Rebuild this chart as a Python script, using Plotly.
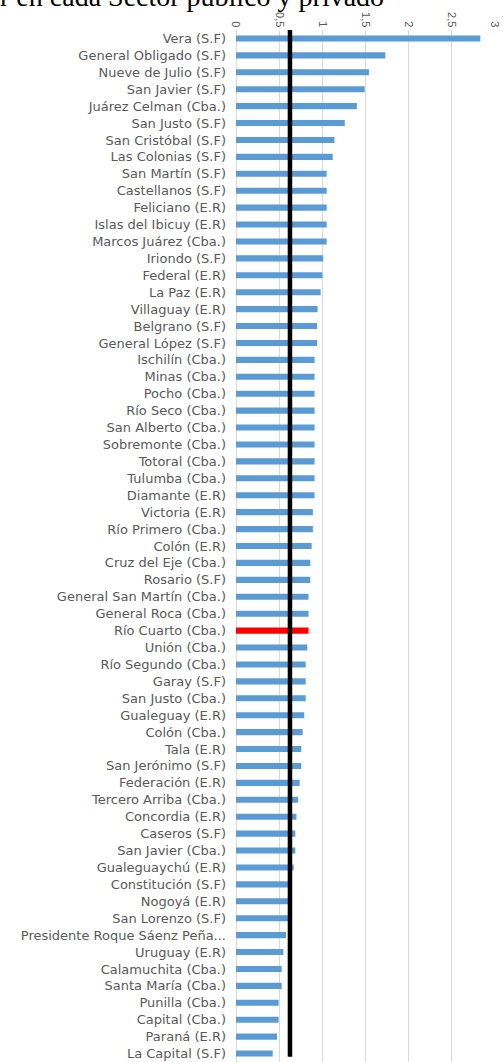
import plotly.graph_objects as go

# Departments ordered from highest to lowest value
departamentos = [
    "Vera (S.F)", "General Obligado (S.F)", "Nueve de Julio (S.F)", "San Javier (S.F)",
    "Juárez Celman (Cba.)", "San Justo (S.F)", "San Cristóbal (S.F)", "Las Colonias (S.F)",
    "San Martín (S.F)", "Castellanos (S.F)", "Feliciano (E.R)", "Islas del Ibicuy (E.R)",
    "Marcos Juárez (Cba.)", "Iriondo (S.F)", "Federal (E.R)", "La Paz (E.R)",
    "Villaguay (E.R)", "Belgrano (S.F)", "General López (S.F)", "Ischilín (Cba.)",
    "Minas (Cba.)", "Pocho (Cba.)", "Río Seco (Cba.)", "San Alberto (Cba.)",
    "Sobremonte (Cba.)", "Totoral (Cba.)", "Tulumba (Cba.)", "Diamante (E.R)",
    "Victoria (E.R)", "Río Primero (Cba.)", "Colón (E.R)", "Cruz del Eje (Cba.)",
    "Rosario (S.F)", "General San Martín (Cba.)", "General Roca (Cba.)", "Río Cuarto (Cba.)",
    "Unión (Cba.)", "Río Segundo (Cba.)", "Garay (S.F)", "San Justo (Cba.)",
    "Gualeguay (E.R)", "Colón (Cba.)", "Tala (E.R)", "San Jerónimo (S.F)",
    "Federación (E.R)", "Tercero Arriba (Cba.)", "Concordia (E.R)", "Caseros (S.F)",
    "San Javier (Cba.)", "Gualeguaychú (E.R)", "Constitución (S.F)", "Nogoyá (E.R)",
    "San Lorenzo (S.F)", "Presidente Roque Sáenz Peña...", "Uruguay (E.R)", "Calamuchita (Cba.)",
    "Santa María (Cba.)", "Punilla (Cba.)", "Capital (Cba.)", "Paraná (E.R)",
    "La Capital (S.F)",
]

valores = [
    2.83, 1.73, 1.54, 1.49,
    1.40, 1.26, 1.14, 1.12,
    1.05, 1.05, 1.05, 1.05,
    1.05, 1.01, 1.00, 0.98,
    0.945, 0.94, 0.94, 0.91,
    0.91, 0.91, 0.91, 0.91,
    0.91, 0.91, 0.91, 0.91,
    0.89, 0.89, 0.876, 0.86,
    0.86, 0.84, 0.84, 0.84,
    0.826, 0.807, 0.807, 0.807,
    0.79, 0.772, 0.756, 0.756,
    0.737, 0.72, 0.70, 0.687,
    0.687, 0.668, 0.61, 0.61,
    0.61, 0.579, 0.548, 0.529,
    0.529, 0.494, 0.494, 0.475,
    0.425,
]

destacado = "Río Cuarto (Cba.)"
promedio = 0.625

x_ticks = [0, 0.5, 1, 1.5, 2, 2.5, 3]
x_tick_text = ["0", "0,5", "1", "1,5", "2", "2,5", "3"]

titulo = "Nivel a comparar en cada Sector público y privado"

colores = ["#FF0000" if d == destacado else "#5B9BD5" for d in departamentos]

fig = go.Figure(
    go.Bar(
        x=valores,
        y=departamentos,
        orientation="h",
        marker=dict(color=colores, line=dict(width=0)),
        hoverinfo="x+y",
    )
)

# Average reference line
fig.add_shape(
    type="line",
    xref="x", yref="paper",
    x0=promedio, x1=promedio, y0=0.005, y1=1,
    line=dict(color="black", width=4.5),
    layer="above",
)

# Heading sits mostly above the top edge of the page
fig.add_annotation(
    text=titulo,
    xref="paper", yref="paper",
    x=0.58, y=1.0,
    xanchor="right", yanchor="bottom",
    yshift=16,
    showarrow=False,
    font=dict(family="Liberation Serif", size=28, color="#000000"),
)

fig.update_layout(
    width=503,
    height=1062,
    margin=dict(l=236, r=8, t=30, b=0),
    plot_bgcolor="white",
    paper_bgcolor="white",
    bargap=0.64,
    showlegend=False,
    xaxis=dict(
        side="top",
        range=[0, 3],
        tickvals=x_ticks,
        ticktext=x_tick_text,
        tickangle=90,
        tickfont=dict(family="Liberation Sans", size=11, color="#595959"),
        showgrid=True,
        gridcolor="#D9D9D9",
        gridwidth=1.2,
        zeroline=True,
        zerolinecolor="#D9D9D9",
        zerolinewidth=1.2,
        showline=False,
        ticks="",
        fixedrange=True,
    ),
    yaxis=dict(
        autorange="reversed",
        tickfont=dict(family="DejaVu Sans", size=13, color="#595959"),
        ticks="",
        ticklabelstandoff=9,
        showgrid=False,
        showline=False,
        fixedrange=True,
    ),
)

fig.write_html("out.html")
